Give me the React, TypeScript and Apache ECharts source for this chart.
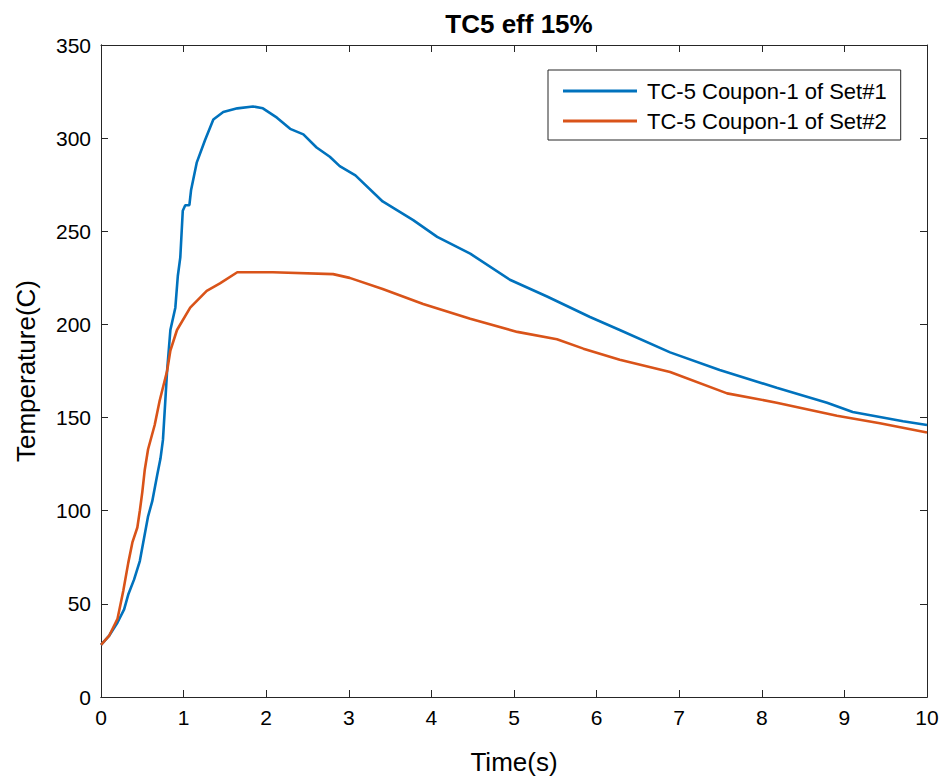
import React, { useEffect, useRef } from "react";
import * as echarts from "echarts";

// Coupon TC-5 temperature histories, time in seconds, temperature in C
const timeSet1 = [0, 0.1, 0.2, 0.28, 0.33, 0.4, 0.47, 0.57, 0.62, 0.68, 0.72, 0.75, 0.78, 0.8, 0.84, 0.9, 0.93, 0.96, 0.99, 1.02, 1.07, 1.09, 1.16, 1.26, 1.36, 1.48, 1.65, 1.84, 1.96, 2.13, 2.29, 2.45, 2.61, 2.77, 2.89, 3.08, 3.41, 3.78, 4.07, 4.47, 4.95, 5.4, 5.92, 6.28, 6.89, 7.49, 8.18, 8.79, 9.1, 9.71, 10];
const tempSet1 = [28, 33, 40, 47, 55, 63, 73, 97, 105, 119, 128, 138, 160, 175, 197, 209, 226, 236, 261, 264, 264, 272, 287, 299, 310, 314, 316, 317, 316, 311, 305, 302, 295, 290, 285, 280, 266, 256, 247, 238, 224, 215, 204, 197, 185, 175.5, 166, 158, 153, 148, 146];

const timeSet2 = [0, 0.1, 0.2, 0.27, 0.33, 0.38, 0.44, 0.47, 0.5, 0.53, 0.57, 0.65, 0.71, 0.8, 0.84, 0.92, 1.08, 1.28, 1.44, 1.65, 2.08, 2.81, 3.01, 3.41, 3.9, 4.47, 5.04, 5.52, 5.84, 6.28, 6.89, 7.58, 8.18, 8.91, 9.43, 10];
const tempSet2 = [28, 33, 42, 57, 72, 83, 91, 100, 110, 122, 133, 146, 159, 175, 186, 197, 209, 218, 222, 228, 228, 227, 225, 219, 211, 203, 196, 192, 187, 181, 174.5, 163, 158, 151, 147, 142];

const seriesNames = ["TC-5 Coupon-1 of Set#1", "TC-5 Coupon-1 of Set#2"];
const xTicks = [0, 1, 2, 3, 4, 5, 6, 7, 8, 9, 10];
const yTicks = [0, 50, 100, 150, 200, 250, 300, 350];

const FONT = "'Liberation Sans', Arial, Helvetica, sans-serif";
const AXIS = "#262626";

function pairs(xs: number[], ys: number[]) {
  return xs.map((x, i) => [x, ys[i]]);
}

const axisLine = () => ({ show: true, onZero: false, lineStyle: { color: AXIS, width: 1 } });
const tickIn = () => ({ show: true, inside: true, length: 7, lineStyle: { color: AXIS, width: 1 } });

// label-free frame axis carrying only the line and inward ticks
const frameX = (position: string) => ({
  type: "value",
  position,
  min: 0,
  max: 10,
  interval: 1,
  axisLine: axisLine(),
  axisTick: tickIn(),
  axisLabel: { show: false },
  splitLine: { show: false },
});
const frameY = (position: string) => ({
  type: "value",
  position,
  min: 0,
  max: 350,
  interval: 50,
  axisLine: axisLine(),
  axisTick: tickIn(),
  axisLabel: { show: false },
  splitLine: { show: false },
});

export default function App() {
  const ref = useRef<HTMLDivElement>(null);

  useEffect(() => {
    if (!ref.current) return;
    const chart = echarts.init(ref.current, undefined, { renderer: "svg" });

    chart.setOption({
      animation: false,
      backgroundColor: "#ffffff",
      title: {
        text: "TC5 eff 15%",
        left: 514,
        top: 6,
        textAlign: "center",
        textStyle: { fontFamily: FONT, fontSize: 26, fontWeight: "bold", color: "#000" },
      },
      legend: {
        orient: "vertical",
        left: 548,
        top: 70,
        padding: [10, 14, 8, 15],
        itemGap: 8,
        itemWidth: 74,
        itemHeight: 3,
        backgroundColor: "#fff",
        borderColor: AXIS,
        borderWidth: 1,
        borderRadius: 0,
        textStyle: { fontFamily: FONT, fontSize: 22, color: "#000", padding: [0, 0, 0, 5] },
        data: seriesNames.map((n) => ({ name: n, icon: "rect" })),
      },
      grid: { left: 101, right: 17, top: 45, bottom: 85, containLabel: false },
      xAxis: [
        {
          type: "value",
          position: "bottom",
          min: 0,
          max: 10,
          interval: 1,
          name: "Time(s)",
          nameLocation: "middle",
          nameGap: 52,
          nameTextStyle: { fontFamily: FONT, fontSize: 26, color: "#000" },
          axisLine: axisLine(),
          axisTick: { show: false },
          splitLine: { show: false },
          axisLabel: {
            fontFamily: FONT,
            fontSize: 21,
            color: "#000",
            margin: 10,
            formatter: (v: number) => (xTicks.includes(v) ? String(v) : ""),
          },
        },
        frameX("top"),
        frameX("bottom"),
      ],
      yAxis: [
        {
          type: "value",
          position: "left",
          min: 0,
          max: 350,
          interval: 50,
          name: "Temperature(C)",
          nameLocation: "middle",
          nameGap: 62,
          nameTextStyle: { fontFamily: FONT, fontSize: 26, color: "#000" },
          axisLine: axisLine(),
          axisTick: { show: false },
          splitLine: { show: false },
          axisLabel: {
            fontFamily: FONT,
            fontSize: 21,
            color: "#000",
            margin: 10,
            formatter: (v: number) => (yTicks.includes(v) ? String(v) : ""),
          },
        },
        frameY("right"),
        frameY("left"),
      ],
      series: [
        {
          name: seriesNames[0],
          type: "line",
          data: pairs(timeSet1, tempSet1),
          showSymbol: false,
          symbol: "none",
          lineStyle: { color: "#0072BD", width: 2.6 },
          itemStyle: { color: "#0072BD" },
        },
        {
          name: seriesNames[1],
          type: "line",
          data: pairs(timeSet2, tempSet2),
          showSymbol: false,
          symbol: "none",
          lineStyle: { color: "#D95319", width: 2.6 },
          itemStyle: { color: "#D95319" },
        },
      ],
    });

    return () => chart.dispose();
  }, []);

  return (
    <div
      ref={ref}
      style={{ position: "absolute", left: 0, top: 0, width: 944, height: 782 }}
    />
  );
}
